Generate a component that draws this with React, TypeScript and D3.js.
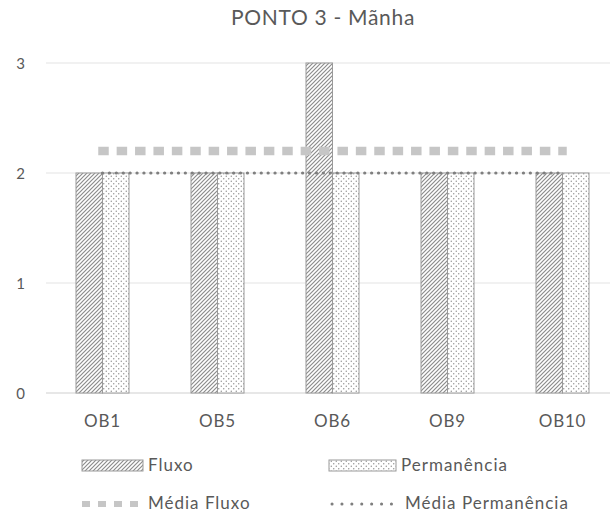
import React from "react";
import * as d3 from "d3";

const categories = ["OB1", "OB5", "OB6", "OB9", "OB10"];
const fluxo = [2, 2, 3, 2, 2];
const permanencia = [2, 2, 2, 2, 2];
const mediaFluxo = [2.2, 2.2, 2.2, 2.2, 2.2];
const mediaPermanencia = [2, 2, 2, 2, 2];
const yTicks = [0, 1, 2, 3];
const title = "PONTO 3 - Mãnha";

const W = 610;
const H = 518;
const FONT = "Lato, 'Open Sans', sans-serif";
const TXT = "#595959";

export default function App() {
  const x = d3.scaleBand<string>().domain(categories).range([45, 620]).paddingInner(0).paddingOuter(0);
  const y = d3.scaleLinear().domain([0, 3]).range([393, 63]);
  const barW = 26.5;
  const cx = (c: string) => (x(c) as number) + x.bandwidth() / 2;
  const line = d3
    .line<number>()
    .x((_, i) => cx(categories[i]))
    .y((d) => y(d));

  return (
    <svg width={W} height={H} style={{ position: "absolute", left: 0, top: 0, background: "#fff" }}>
      <defs>
        <pattern id="hatch" patternUnits="userSpaceOnUse" width="4" height="4">
          <rect width="4" height="4" fill="#fff" />
          <path d="M-1,1 l2,-2 M0,4 l4,-4 M3,5 l2,-2" stroke="#8c8c8c" strokeWidth="1.2" />
        </pattern>
        <pattern id="dots" patternUnits="userSpaceOnUse" width="5" height="5">
          <rect width="5" height="5" fill="#fff" />
          <circle cx="1.25" cy="1.25" r="0.7" fill="#8c8c8c" />
          <circle cx="3.75" cy="3.75" r="0.7" fill="#8c8c8c" />
        </pattern>
      </defs>
      <rect width={W} height={H} fill="#fff" />
      <text x={323} y={25} textAnchor="middle" fontFamily={FONT} fontSize={21} letterSpacing={0.7} fill={TXT}>
        {title}
      </text>
      {yTicks.map((t) => (
        <g key={t}>
          <line x1={46} x2={620} y1={y(t)} y2={y(t)} stroke={t === 0 ? "#d0d0d0" : "#e3e3e3"} strokeWidth={1.2} />
          <text x={20.5} y={y(t) + 5.5} textAnchor="middle" fontFamily={FONT} fontSize={15} fill={TXT}>
            {t}
          </text>
        </g>
      ))}
      {categories.map((c, i) => (
        <g key={c}>
          <rect x={cx(c) - barW} y={y(fluxo[i])} width={barW} height={y(0) - y(fluxo[i])} fill="url(#hatch)" stroke="#9a9a9a" strokeWidth={1} />
          <rect x={cx(c)} y={y(permanencia[i])} width={barW} height={y(0) - y(permanencia[i])} fill="url(#dots)" stroke="#9a9a9a" strokeWidth={1} />
          <text x={cx(c)} y={427} textAnchor="middle" fontFamily={FONT} fontSize={17} letterSpacing={0.8} fill={TXT}>
            {c}
          </text>
        </g>
      ))}
      <path d={line(mediaFluxo) || ""} fill="none" stroke="#c6c6c6" strokeWidth={8.5} strokeDasharray="2,16.4" strokeLinecap="square" />
      <path d={line(mediaPermanencia) || ""} fill="none" stroke="#7f7f7f" strokeWidth={3.2} strokeDasharray="0.1,6.8" strokeLinecap="round" />

      {/* legend */}
      <rect x={82} y={460} width={61} height={11} fill="url(#hatch)" stroke="#9a9a9a" />
      <text x={148} y={471} fontFamily={FONT} fontSize={17} letterSpacing={1} fill={TXT}>Fluxo</text>
      <rect x={329} y={460} width={67} height={11} fill="url(#dots)" stroke="#9a9a9a" />
      <text x={401} y={471} fontFamily={FONT} fontSize={17} letterSpacing={1} fill={TXT}>Permanência</text>
      <line x1={82} x2={145} y1={504} y2={504} stroke="#c6c6c6" strokeWidth={6} strokeDasharray="8,8" />
      <text x={148} y={509} fontFamily={FONT} fontSize={17} letterSpacing={1} fill={TXT}>Média Fluxo</text>
      <line x1={332} x2={401} y1={504} y2={504} stroke="#7f7f7f" strokeWidth={3} strokeDasharray="0.1,9.8" strokeLinecap="round" />
      <text x={405} y={509} fontFamily={FONT} fontSize={17} letterSpacing={1} fill={TXT}>Média Permanência</text>
    </svg>
  );
}
